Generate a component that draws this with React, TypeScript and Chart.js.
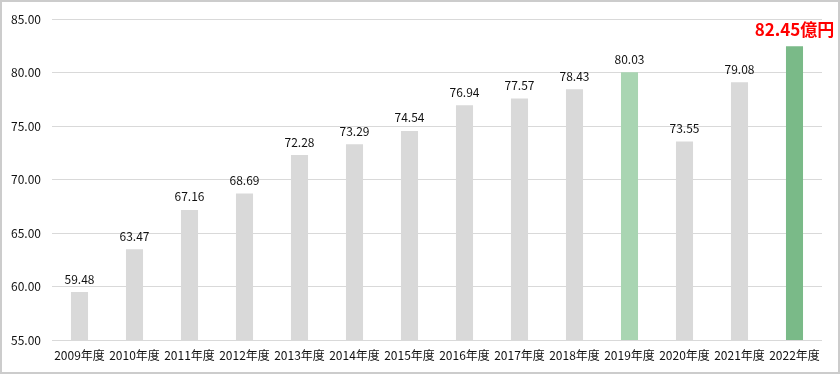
import React, { useEffect, useRef } from "react";
import { Chart, registerables } from "chart.js";

Chart.register(...registerables);

const categories = ["2009年度", "2010年度", "2011年度", "2012年度", "2013年度", "2014年度", "2015年度", "2016年度", "2017年度", "2018年度", "2019年度", "2020年度", "2021年度", "2022年度"];
const values = [59.48, 63.47, 67.16, 68.69, 72.28, 73.29, 74.54, 76.94, 77.57, 78.43, 80.03, 73.55, 79.08, 82.45];
const barColors = ["#d9d9d9", "#d9d9d9", "#d9d9d9", "#d9d9d9", "#d9d9d9", "#d9d9d9", "#d9d9d9", "#d9d9d9", "#d9d9d9", "#d9d9d9", "#a9d5b2", "#d9d9d9", "#d9d9d9", "#7aba88"];
const lastLabelSuffix = "億円";

const FONT = "'Noto Sans CJK JP', 'Noto Sans', sans-serif";

const labelPlugin = {
  id: "valueLabels",
  afterDatasetsDraw(chart: any) {
    const ctx = chart.ctx;
    const meta = chart.getDatasetMeta(0);
    ctx.save();
    ctx.textAlign = "center";
    ctx.textBaseline = "bottom";
    meta.data.forEach((bar: any, i: number) => {
      const v = values[i];
      if (i === values.length - 1) {
        ctx.font = `bold 17px ${FONT}`;
        ctx.fillStyle = "#ff0000";
        ctx.fillText(v.toFixed(2) + lastLabelSuffix, bar.x, bar.y - 8);
      } else {
        ctx.font = `12px ${FONT}`;
        ctx.fillStyle = "#111111";
        ctx.fillText(v.toFixed(2), bar.x, bar.y - 7);
      }
    });
    ctx.restore();
  },
};

export default function App() {
  const ref = useRef<HTMLCanvasElement | null>(null);
  useEffect(() => {
    document.body.style.margin = "0";
    const chart = new Chart(ref.current!, {
      type: "bar",
      data: {
        labels: categories,
        datasets: [
          {
            data: values,
            backgroundColor: barColors,
            barPercentage: 0.31,
            categoryPercentage: 1,
          },
        ],
      },
      options: {
        animation: false,
        responsive: false,
        maintainAspectRatio: false,
        layout: { padding: { top: 19, right: 18, left: 0, bottom: 0 } },
        plugins: { legend: { display: false }, tooltip: { enabled: false } },
        scales: {
          x: {
            grid: { display: false },
            border: { display: false },
            ticks: { color: "#111111", font: { family: FONT, size: 12 }, padding: 0, maxRotation: 0, autoSkip: false },
            afterFit: (s: any) => { s.height = 34; },
          },
          y: {
            min: 55,
            max: 85,
            grid: { color: "#d9d9d9", lineWidth: 1, drawTicks: false },
            border: { display: false },
            ticks: {
              stepSize: 5,
              color: "#111111",
              font: { family: FONT, size: 12 },
              padding: 11,
              callback: (v: any) => Number(v).toFixed(2),
            },
            afterFit: (s: any) => { s.width = 52; },
          },
        },
      },
      plugins: [labelPlugin],
    });
    return () => chart.destroy();
  }, []);
  return (
    <div style={{ position: "relative", width: 840, height: 374 }}>
      <canvas ref={ref} width={840} height={374} style={{ display: "block" }} />
      <div style={{ position: "absolute", left: 0, top: 0, width: 840, height: 374, boxSizing: "border-box", border: "2px solid #cccccc", pointerEvents: "none" }} />
    </div>
  );
}
